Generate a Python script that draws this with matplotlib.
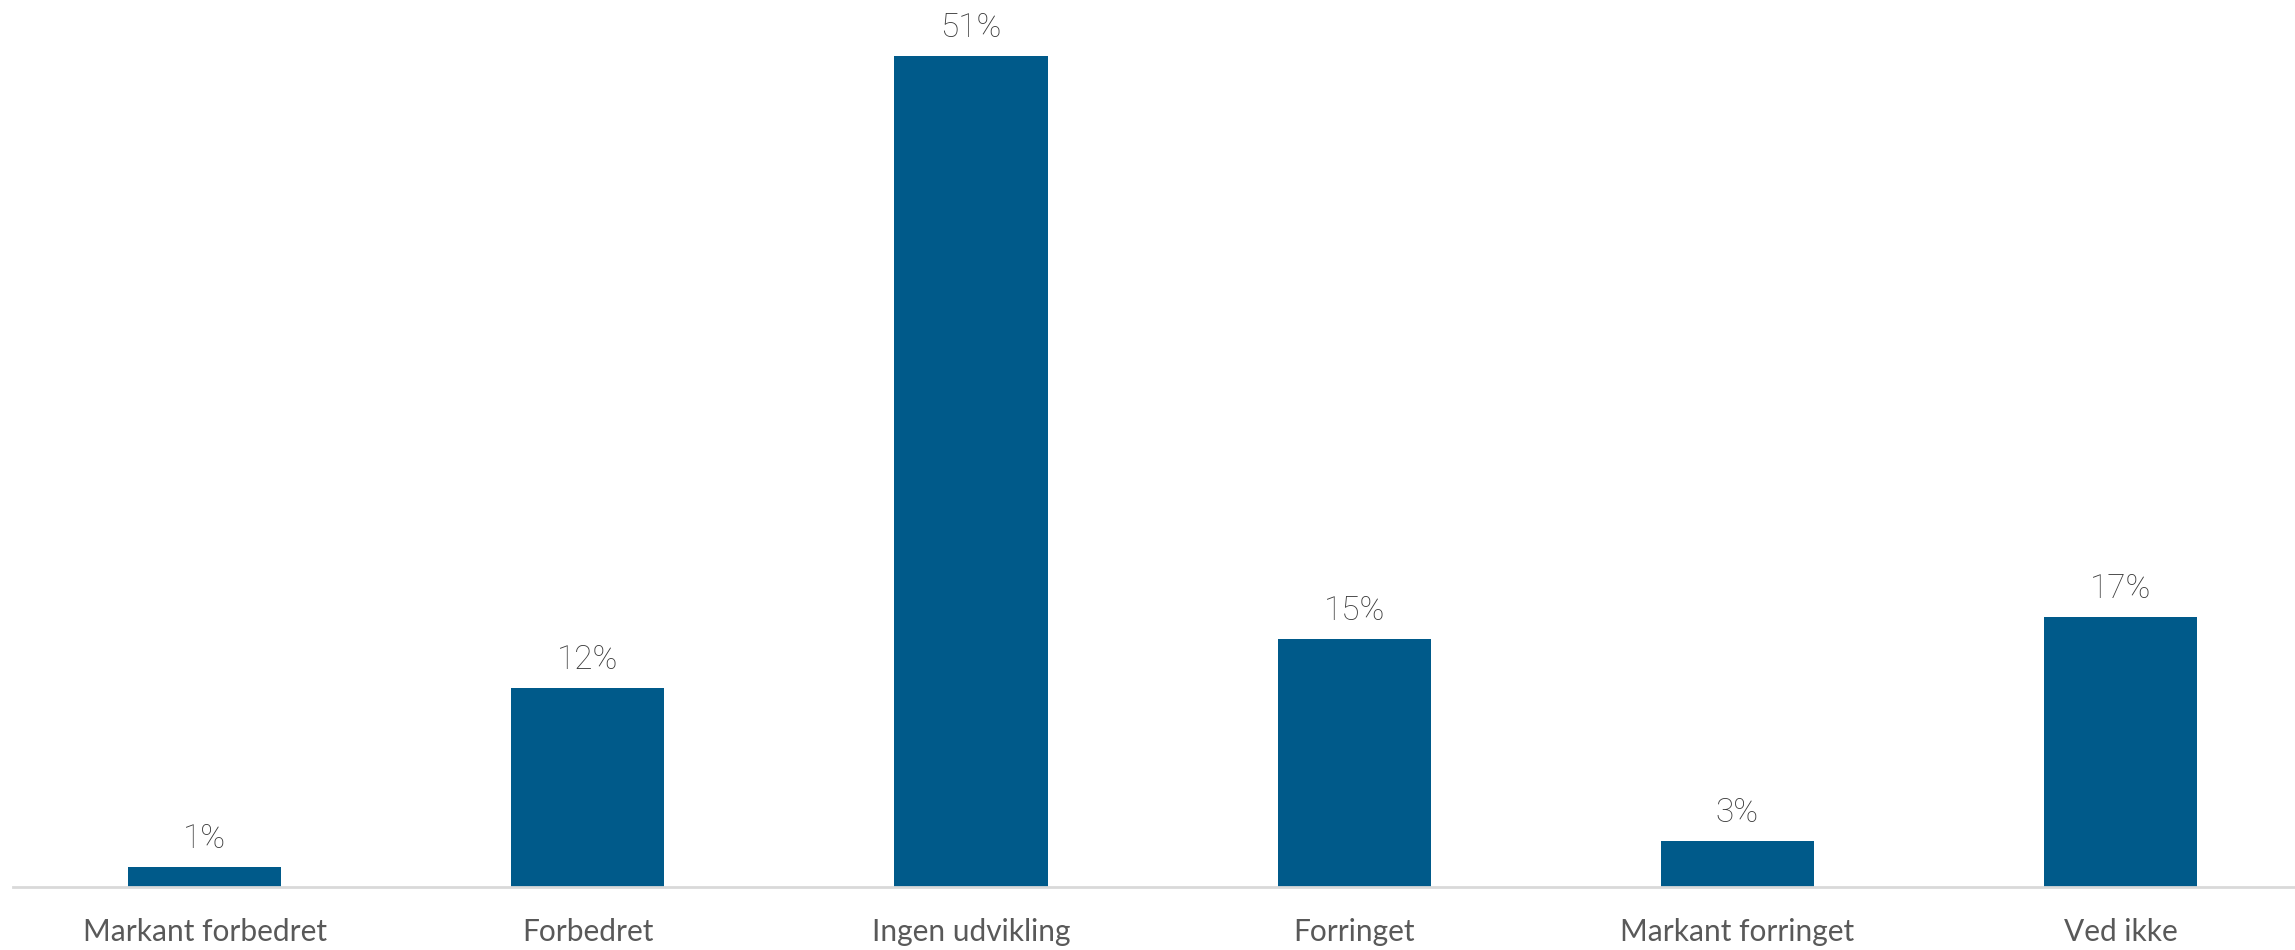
import matplotlib

matplotlib.use("Agg")

import matplotlib.pyplot as plt

CATEGORIES = [
    "Markant forbedret",
    "Forbedret",
    "Ingen udvikling",
    "Forringet",
    "Markant forringet",
    "Ved ikke",
]
SHARES = [1.2, 12.2, 51.0, 15.2, 2.8, 16.6]

BAR_COLOR = "#005a8a"
TEXT_COLOR = "#595959"

W, H = 2295, 950
fig = plt.figure(figsize=(W / 100, H / 100), dpi=100)
# axes runs from x=13px, one slot = 383.2px, baseline at y=887px
left = 13 / W
bottom = (H - 887) / H
ax = fig.add_axes([left, bottom, (W - 13) / W, 887 / H])

x = range(len(CATEGORIES))
ax.bar(x, SHARES, width=0.40, color=BAR_COLOR, zorder=2)

for xi, v in zip(x, SHARES):
    ax.annotate(
        f"{v:.0f}%",
        xy=(xi, v),
        xytext=(0, 12),
        textcoords="offset pixels",
        ha="center",
        va="bottom",
        fontsize=24,
        family="Roboto",
        fontweight="light",
        color="#3a3a3a",
    )

slot_px = 383.2
ax.set_xlim(-0.5, -0.5 + (W - 13) / slot_px)
ax.set_ylim(0, 51 * 887 / 831)

ax.set_xticks(list(x))
ax.set_xticklabels(CATEGORIES, fontsize=21.5, family="Lato", color=TEXT_COLOR)
ax.tick_params(axis="x", length=0, pad=22)
ax.set_yticks([])

for side in ("top", "right", "left"):
    ax.spines[side].set_visible(False)
ax.spines["bottom"].set_color("#d9d9d9")
ax.spines["bottom"].set_linewidth(2)

fig.savefig("out.png", dpi=100)
